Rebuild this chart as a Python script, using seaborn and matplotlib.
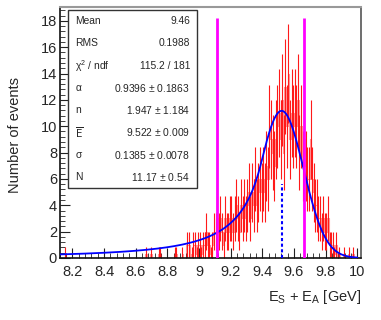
import numpy as np
import pandas as pd
import seaborn as sns
import matplotlib.pyplot as plt
import matplotlib.ticker as ticker
from matplotlib.patches import Rectangle

# bin counts, 0.01 GeV bins starting at 8.10
bin_start = 8.10
bin_width = 0.01
counts = [
    0, 0, 0, 0, 0, 0.3, 0, 0, 0, 0,          # 8.10
    0, 0, 0, 0, 0, 0, 0, 0, 0, 0,            # 8.20
    0, 0, 0, 0, 0, 0, 0, 0, 0, 0,            # 8.30
    0, 0, 0, 0, 0, 0, 0, 0, 0, 0,            # 8.40
    0, 0, 0, 0, 0, 0, 0, 0, 0, 0,            # 8.50
    0, 0, 0, 0, 0, 0, 0.3, 0, 0, 0.3,        # 8.60
    0, 0, 0, 0, 0.3, 0.3, 0, 0, 0, 0,        # 8.70
    0, 0, 0, 0, 0.3, 0.3, 0, 0, 0, 0.3,      # 8.80
    0, 0, 1, 1, 0, 0.3, 1, 1, 0.3, 1,        # 8.90
    1, 0.3, 1, 1, 2, 1, 1, 0.3, 1, 2,        # 9.00
    2, 3, 2, 3, 2, 1, 3, 2, 2, 3,            # 9.10
    3, 2, 3, 4, 3, 2, 4, 3, 4, 3,            # 9.20
    4, 5, 3, 5, 4, 6, 4, 5, 6, 5,            # 9.30
    6, 5, 7, 6, 10, 9, 8, 7, 9, 10,          # 9.40
    11, 9, 12, 8, 13, 10, 14, 9, 11, 10,     # 9.50
    11, 10, 12, 8, 10, 7, 9, 7, 6, 6,        # 9.60
    9, 6, 5, 4, 4, 3, 3, 2, 3, 2,            # 9.70
    2, 3, 1, 1, 1, 0.3, 1, 0, 0.3, 0,        # 9.80
    0, 0.3, 0, 0, 0.3, 0, 0, 0.3, 0, 0,      # 9.90
]

# fit parameters from the stats box (Crystal Ball)
stats_labels = ['Mean', 'RMS', r'$\chi^{2}$ / ndf', r'$\alpha$', 'n',
                r'$\overline{\rm E}$', r'$\sigma$', 'N']
stats_values = ['9.46', '0.1988', '115.2 / 181', '0.9396 $\\pm$ 0.1863',
                '1.947 $\\pm$ 1.184', '9.522 $\\pm$ 0.009',
                '0.1385 $\\pm$ 0.0078', '11.17 $\\pm$ 0.54']
alpha, n_cb, e_mean, sigma, norm = 0.9396, 1.947, 9.522, 0.1385, 11.17
window = [9.115, 9.665]

sns.set_style('ticks')
plt.rcParams['font.family'] = ['Liberation Sans', 'DejaVu Sans']
plt.rcParams['mathtext.default'] = 'regular'

nbins = len(counts)
df = pd.DataFrame({'x': bin_start + bin_width * (np.arange(nbins) + 0.5),
                   'n': counts})
df['err'] = np.sqrt(df['n'])

fig = plt.figure(figsize=(3.81, 3.2), dpi=100)
ax = fig.add_axes([0.157, 0.194, 0.791, 0.784])

sns.histplot(data=df, x='x', weights='n', binwidth=bin_width,
             binrange=(bin_start, bin_start + nbins * bin_width),
             element='step', fill=False, color='#ff0000', alpha=0.4,
             lw=0.8, ax=ax)
nz = df[df['n'] > 0]
ax.vlines(nz['x'], nz['n'] - nz['err'], nz['n'] + nz['err'],
          color='#ff1a1a', lw=0.8, zorder=2)

# fit curve
xs = np.linspace(8.12, 10.0, 600)
t = (xs - e_mean) / sigma
A = (n_cb / alpha) ** n_cb * np.exp(-alpha ** 2 / 2)
B = n_cb / alpha - alpha
ys = np.where(t > -alpha, np.exp(-t ** 2 / 2),
              A * np.abs(B - t).clip(1e-9) ** (-n_cb))
fit = pd.DataFrame({'x': xs, 'y': norm * ys})
sns.lineplot(data=fit, x='x', y='y', color='#0000ff', lw=1.3, ax=ax, zorder=4)

ax.vlines(window, 0, 18.2, color='#ff00ff', lw=2, zorder=5)
ax.vlines([e_mean], 0, norm / 2, color='#0000ff', lw=1.5,
          linestyles=(0, (1.5, 1.2)), zorder=5)

ax.set_xlim(8.12, 10.025)
ax.set_ylim(0, 19.05)
ax.xaxis.set_major_locator(ticker.MultipleLocator(0.2))
ax.xaxis.set_minor_locator(ticker.MultipleLocator(0.04))
ax.yaxis.set_major_locator(ticker.MultipleLocator(2))
ax.yaxis.set_minor_locator(ticker.MultipleLocator(0.4))
ax.xaxis.set_major_formatter(ticker.FuncFormatter(lambda v, p: f'{v:g}'))
ax.tick_params(which='both', direction='in', labelsize=10.5, color='#222222')
ax.tick_params(which='major', length=7, width=0.8)
ax.tick_params(which='minor', length=3.5, width=0.6)
ax.tick_params(axis='x', pad=5)
ax.tick_params(axis='y', pad=2)
for side in ['left', 'bottom']:
    ax.spines[side].set_linewidth(1.2)
    ax.spines[side].set_color('#111111')
ax.spines['top'].set_color('#999999')
ax.spines['top'].set_linewidth(1.5)
ax.spines['right'].set_color('#555555')
ax.spines['right'].set_linewidth(1.2)

ax.set_xlabel(r'E$_{S}$ + E$_{A}$ [GeV]', fontsize=10.5, loc='right')
ax.set_ylabel('Number of events', fontsize=10.5)
ax.xaxis.set_label_coords(1.0, -0.12)
ax.yaxis.set_label_coords(-0.125, 0.49)

# stats box
fig.patches.append(Rectangle((68 / 381, 1 - 188 / 320), 129 / 381, 178 / 320,
                             transform=fig.transFigure, fill=True,
                             facecolor='white', edgecolor='#333333', lw=1.0,
                             zorder=10))
for i, (lab, val) in enumerate(zip(stats_labels, stats_values)):
    yy = 1 - (21 + i * 22.3) / 320
    fig.text(75 / 381, yy, lab, fontsize=7.4, ha='left', va='center', zorder=11)
    fig.text(190 / 381, yy, val, fontsize=7.4, ha='right', va='center', zorder=11)

fig.savefig('out.png', dpi=100)
